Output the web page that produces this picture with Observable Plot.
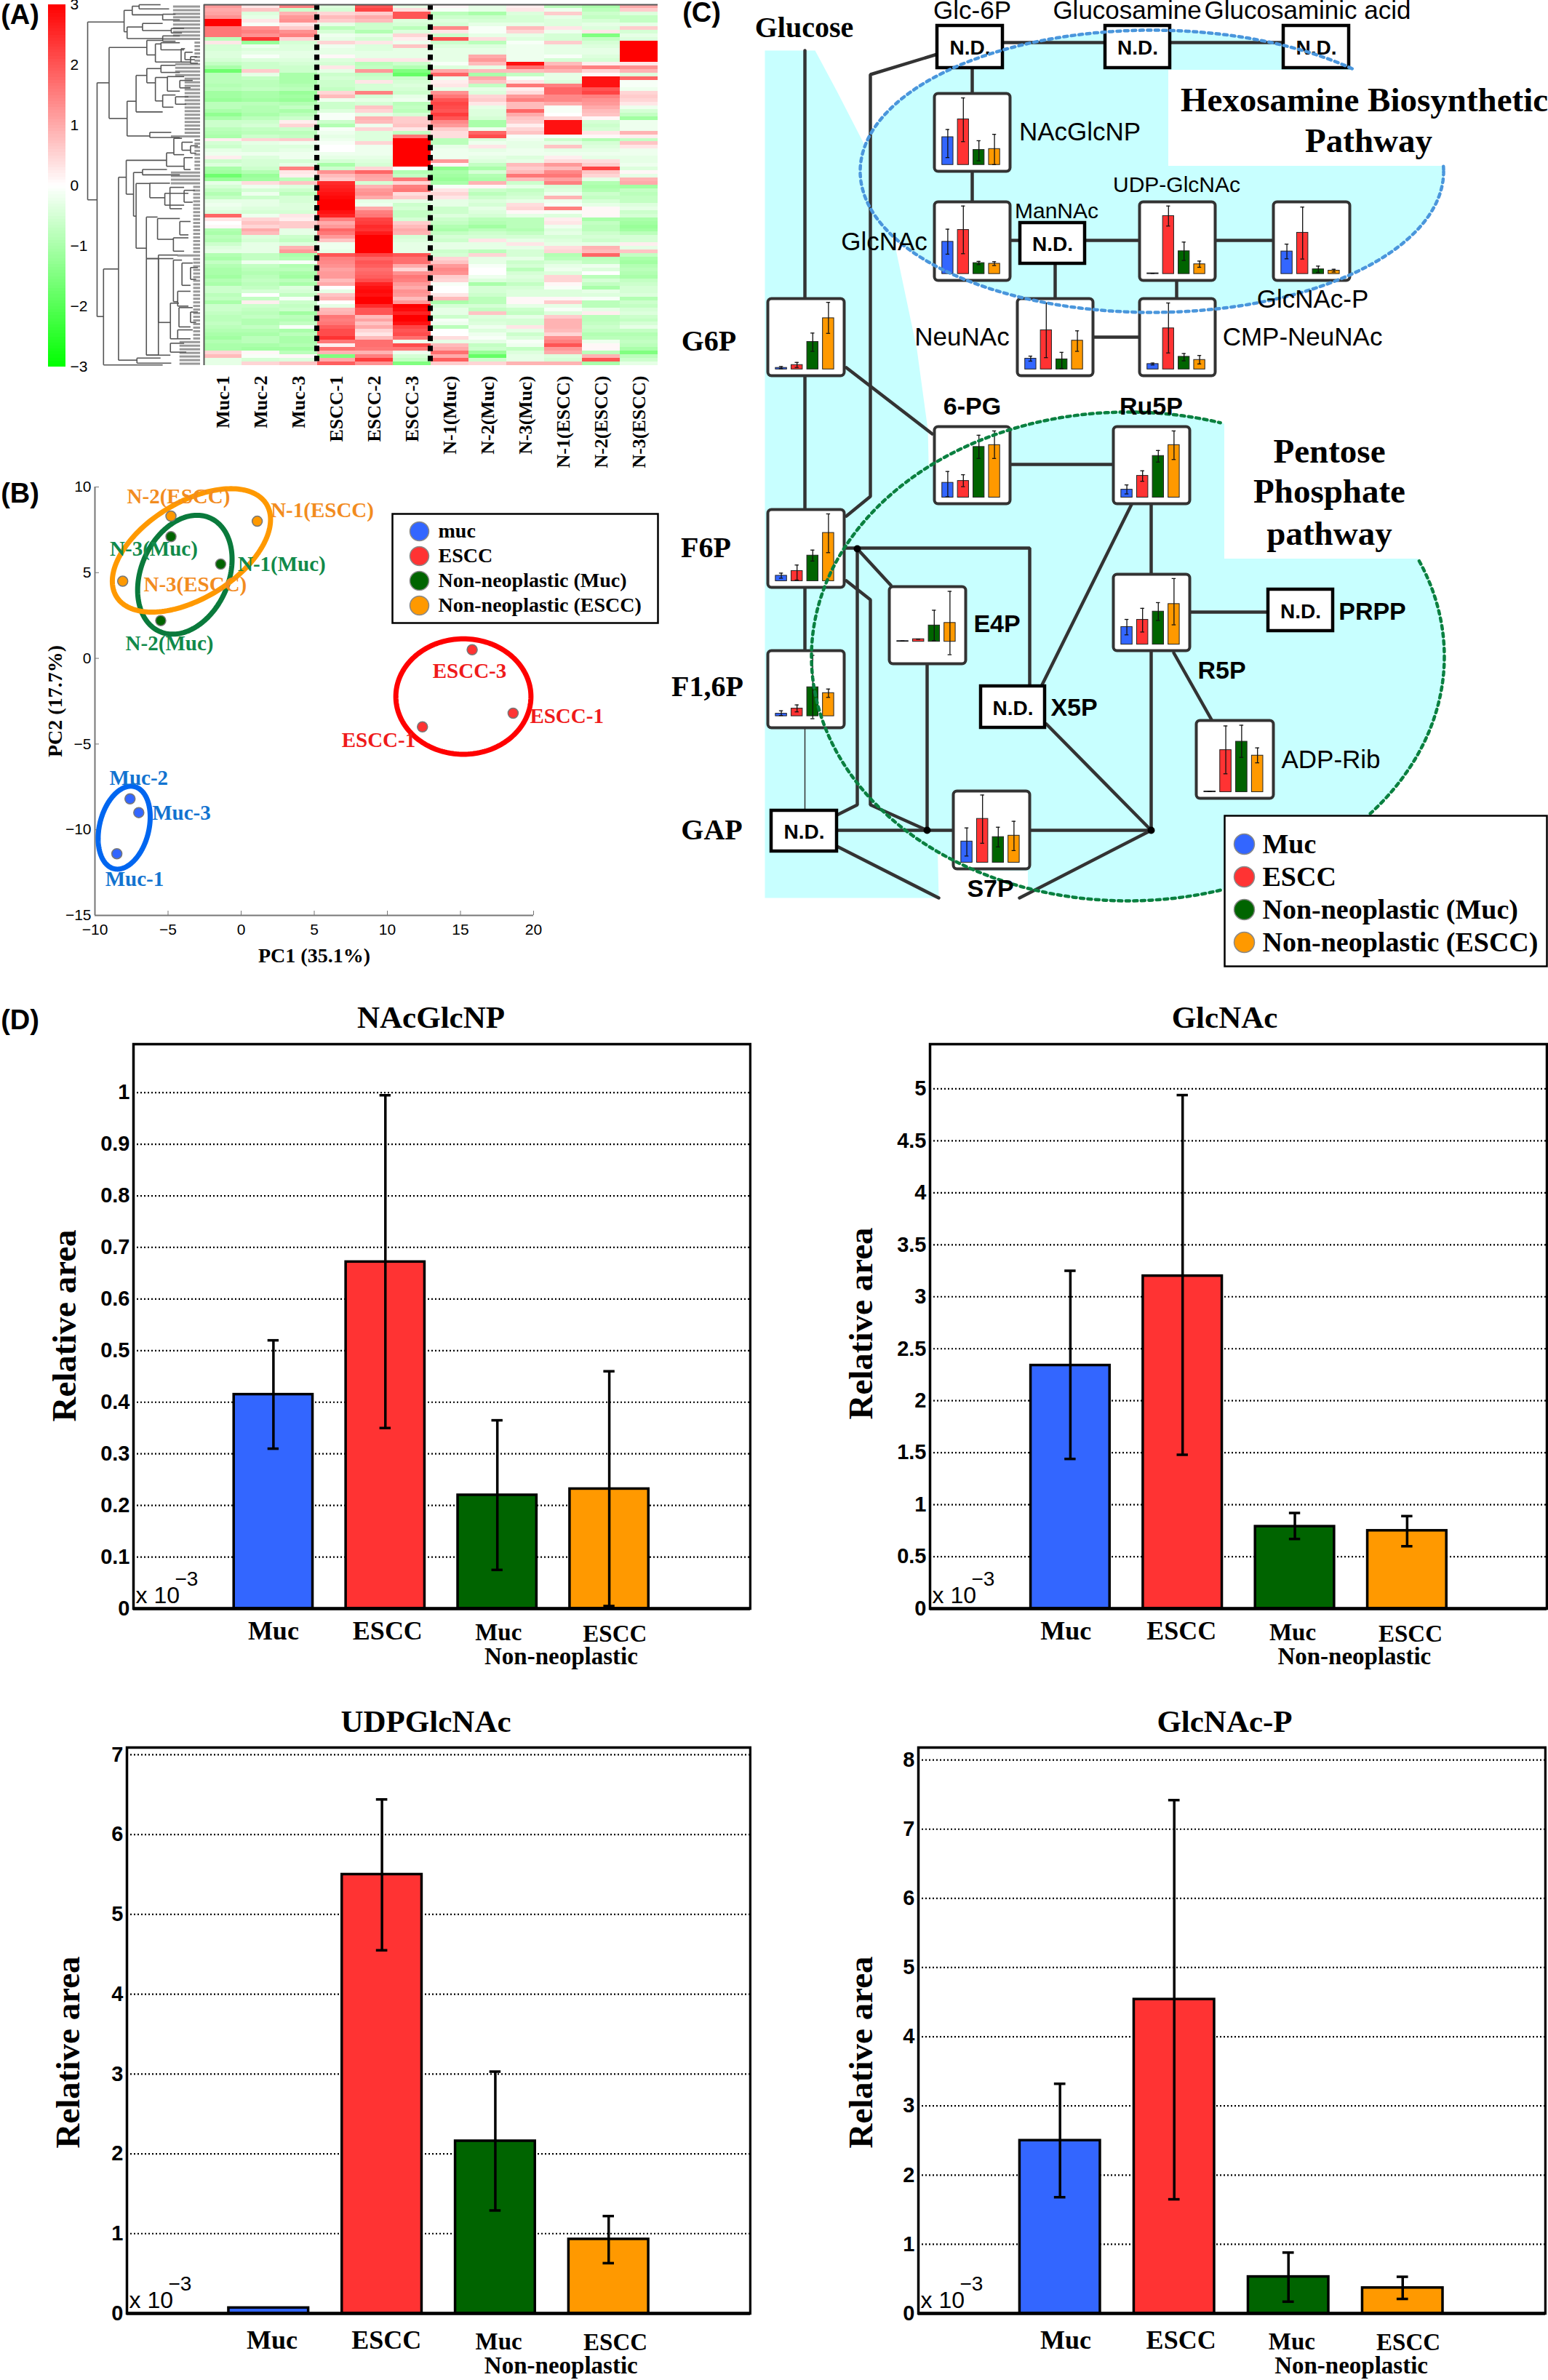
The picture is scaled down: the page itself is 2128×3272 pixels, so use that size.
<!DOCTYPE html>
<html><head><meta charset="utf-8">
<script src="https://cdn.jsdelivr.net/npm/d3@7"></script>
<script src="https://cdn.jsdelivr.net/npm/@observablehq/plot@0.6"></script>
<style>html,body{margin:0;padding:0;background:#fff}#root{position:relative;width:2128px;height:3272px;overflow:hidden;background:#fff}</style>
</head><body><div id="root"></div>
<script>
const SERIF="Liberation Serif", SANS="Liberation Sans";
const groups=["Muc","ESCC","Non-neoplastic (Muc)","Non-neoplastic (ESCC)"];
const groupColors=["#3366ff","#ff3333","#006400","#ff9900"];

// ---------- (A) heat map ----------
const samples=["Muc-1","Muc-2","Muc-3","ESCC-1","ESCC-2","ESCC-3","N-1(Muc)","N-2(Muc)","N-3(Muc)","N-1(ESCC)","N-2(ESCC)","N-3(ESCC)"];
const heatRows=[
[1.2,.3,1.5,-.4,2,-.3,.1,-.3,.2,-.8,-1,1],[1,.7,-.6,-.5,2.2,.4,-.1,-.3,.3,-.2,-.8,.6],[1.1,-.4,.9,.5,.6,2,-.8,-1,-.4,.6,-.6,-.4],[1.3,-.3,1.2,.8,1,2,-.6,-.6,-.5,-.3,-.7,-.7],[3,.3,1.3,.6,.8,-.4,-.4,-.5,-.5,-.4,-.5,-.7],
[3,-.1,.3,-.3,-.6,-.5,-.5,-.3,-.3,-.4,-.3,-.3],[1.6,1.3,.6,-.8,-.6,-.8,1.4,-.1,.8,.3,-.4,.6],[1.6,1.5,1.3,-.5,-.9,-.4,.3,-.1,.5,-.2,.3,-.5],[1.6,1.3,1.5,-.2,-.3,.5,-.6,-.3,-.3,-.5,-1.5,-.3],[-.8,2.4,.5,-.3,-.5,.2,2,.4,-.4,-.5,-.7,-.4],
[.3,-1.2,-.5,.5,.3,-.2,-.6,-.8,-.1,.6,-.5,3],[-.5,-.2,-.4,-.2,-.4,.7,-.4,-.4,-.2,-.3,-.4,3],[-.5,-.4,-.4,-.3,-.4,-.3,-.3,-.3,-.2,-.3,-.3,3],[-.4,-.3,-.3,-.3,-.3,-.3,-.3,-.3,-.2,-.3,-.3,3],[-.4,-.1,-.3,.1,-.3,-.3,-.3,1,-.2,-.1,-.4,3],
[-.5,-.4,-.4,-.4,.3,.3,-.3,1.2,-.2,-.5,-.5,3],[-.7,-.6,-.5,-.5,-.8,-.6,-.1,.8,2.8,.8,.2,.3],[-1,-.6,-.6,.3,-.7,-.9,-.4,-.3,1.7,1.2,1.5,1.3],[-1.7,.6,-.6,-.3,1.2,-1.5,1,.8,.8,.9,.5,.9],[-.8,-.3,-1,-.6,-.7,-1.8,1.8,-1,-.7,-.3,.1,-.4],
[-.8,-.7,-1,-.5,-.6,-.6,-.2,1,-.1,-.3,2.8,1.8],[-.8,-.8,-1,-.6,.3,-.5,.2,.7,.3,-.4,2.8,-.1],[-.9,-.8,-.9,-.6,-.5,-.4,.3,-.7,1.6,1.5,2.8,-.1],[-.8,-.7,-.8,-.7,-.5,-.5,-.3,-.3,.2,1.8,2,-.2],[-1.1,-1,-1.2,.5,1.5,-.6,1.3,-.4,.4,1.8,2.2,.5],
[-1.1,-1,-1.1,.8,-.5,-.3,1.6,.5,1.2,1.4,1.5,.6],[-1.2,-1.1,-1.2,-.2,-.3,-.2,2,.6,1.5,1.4,1.3,.5],[-.8,-.8,-.9,-.6,-.5,-.8,2.2,.3,.8,1,1.2,.3],[-.8,-.9,-.7,-.6,.7,-.7,2.1,-.3,.8,-.1,1,-.2],[-1,-.9,-1,-.4,.5,-.8,2,-.4,1.8,-.1,.8,-.5],
[-1.3,-1,-.8,-.1,-.3,-.5,2.3,-.4,1,0,.7,-.7],[-1,-.8,-.6,-.1,.9,.6,2,-.5,.7,.5,.1,-1.1],[-.6,-.6,.2,-.6,.8,.6,1.4,-1,.6,2.8,-.5,-.2],[-.6,-.5,.5,-.9,-.2,.7,1.2,-1,.2,2.8,-.6,-.2],[-.8,-.7,-.6,-.1,.5,.3,.6,-.2,.5,2.8,-.5,-.2],
[-.9,-.8,-.8,-.2,-.4,-.7,.4,1.8,.7,2.8,.3,.9],[-1,-.6,-.7,-.3,-.4,1.6,.4,2.1,-.1,-.1,.1,.2],[.2,.5,.6,-.2,-.4,3,-.8,-.4,-.2,-.6,-.9,-.7],[-.5,-.3,-.2,-.1,.5,3,-.8,-.2,-.3,-.3,-.5,.7],[-.6,-.4,-.4,0,-.2,3,-.3,.3,-.3,.7,-.4,.3],
[-.3,-.4,-.3,0,-.2,3,-.2,-.3,-.2,-.3,-.3,-.2],[-.2,-.2,-.2,-.2,-.2,3,-.2,-.2,-.2,-.2,-.2,-.2],[.2,-.4,-.2,-.3,-.3,3,-.2,-.3,-.4,.2,-.3,-.3],[-.6,-.5,-.5,-.5,-.4,3,1.2,-.4,-.3,.4,.4,-.3],[-.4,-.5,-.3,-1,-.5,3,.1,-.7,.8,1.2,.6,-.2],
[-1,-.6,1.5,-.6,.5,0,-1.3,-1,.6,.8,2.2,-.4],[-1.1,-.9,.3,1.3,1.8,-.9,-1,-.5,.8,1.4,.7,.1],[-1.7,-1.2,.2,.8,1.1,-.7,-1.1,-.9,1.6,1.6,.5,-.3],[-1.2,-1.1,-.8,.6,1,1.6,-1.2,-1,.8,1.1,-.3,.9],[-.3,.4,.7,2.5,-.5,.5,-1,.9,-.6,1.5,-.9,1],
[-.5,-.2,-.4,2.6,.9,1.5,-.1,.1,-.3,-.5,-1,-1.1],[-.7,-.5,-.6,2.7,1.2,1.6,.3,-.6,-.7,-.4,-.9,-.7],[-.9,-.2,-.8,2.8,1.3,.4,.5,-.8,-.6,-.2,-.6,-.8],[-.7,-.6,-.5,2.9,1,.6,.3,-.6,-.5,.9,-.7,-.7],[-.3,-.3,-.5,3,-.3,-.3,-.3,-.4,-.3,-.2,-.5,-.7],
[-.2,-.3,-.4,3,-.2,-.6,-.3,-.5,.4,-.1,-.3,-.4],[-.3,-.4,-.4,3,1,-.5,-.6,-.3,.5,1.5,.1,-.3],[-.4,-.5,-.5,2.8,1.5,-.7,-.6,-.4,.1,-.1,.1,-.6],[1.8,-.2,.3,2.6,1.6,-.7,-.4,-.5,-.3,-.4,.1,-.5],[.3,.5,.2,1.5,2.2,-.5,-.6,-.8,-.8,.2,-1,-1],
[0,.7,.6,1,2.3,.6,-.7,-.9,-.8,.3,-.7,-1.1],[.1,.5,.6,1.2,2.5,.8,-.9,-1.1,-.8,-.2,-.8,-1.2],[-.9,1,-.3,1.8,2.4,1,-1,-.8,-.9,-.4,-.8,-1.1],[-1,.8,-.3,1.6,2.7,.9,-.7,-.6,-.7,-.3,-.6,-.8],[-.8,-.4,-.6,1.2,3,-.5,-.5,-.5,-.5,-.5,-.5,-.5],
[-.9,-.5,-.7,.7,3,-.4,-.6,.3,-.3,-.4,-.6,-.5],[-.6,-.3,-.4,-.2,3,-.3,-.3,-.3,.3,-.3,-.3,.2],[-.4,-.3,.9,-.2,3,-.3,-.3,-.3,-.3,.4,.9,-.3],[-.3,-.3,1.2,-.3,3,-.3,-.6,-.8,-.5,.5,.8,.7],[-.9,-.7,-1,2,2.2,2,-.5,.5,-.5,-.9,1.8,-.7],
[-1,-.7,-.9,1.5,1.8,1.7,.5,-.3,-.3,-.8,-.8,-1],[-.7,-.2,-.1,1.4,2,1.7,.7,-.3,-.6,-.5,-.7,-1.1],[-.9,-.7,-.9,1.3,1.9,1,1.2,-.1,-.5,-.3,-.2,-.9],[-1,-.8,-.8,1.1,1.7,.5,1.4,0,-.8,-.2,-.4,-.8],[-1,-.9,-1,1.2,1.8,1.3,1.3,0,-.5,-.4,0,-.9],
[-1.1,-.8,-1.1,1.2,1.9,1.6,.6,-.2,-.4,.5,-.8,-1],[-.9,-.7,-.8,.8,2.1,1.5,.5,-.4,-.5,.5,-.5,-.7],[-1,-.8,-1,1,2.6,1.2,-.1,-1,-.7,.1,-.7,-.6],[-.6,-.7,-.4,0,2.8,1,0,-.5,-.5,-.1,-1,-.5],[-.6,-.5,-.5,-.3,2.9,1.3,0,-.5,-.4,-.4,-.3,-.5],
[-.8,0,-.7,.7,2.8,1.2,.3,-.6,-.4,-.4,-.4,-.4],[-.7,-.7,-.1,.9,3,.8,.8,-.8,.1,.1,-.1,-.9],[-1,.2,-.6,0,3,1.2,-1,-.8,.1,.6,-.8,-.6],[-.6,-.6,-.7,-.3,2.5,3,-.5,-.5,-.3,-.3,-.8,-.7],[-.6,-.7,-.6,.8,2,2.9,-.3,-.7,-.6,-.1,-.3,-.5],
[-.7,-.8,-1.1,.9,2,2.6,-.3,.7,-.7,-.4,.2,-.4],[-.8,-.7,-.8,1.6,.8,3,-.6,-.4,-.3,.6,-.8,-.6],[-.8,-.9,-.9,1.5,1.1,3,-.1,-.5,-.5,.9,-.8,-.7],[-.7,-.9,-.7,1.6,.7,2.8,-.2,-.4,-.5,.9,-.7,-.5],[-.8,-.7,-.1,1.9,1,2.2,-.8,-.2,.3,.9,-.6,-.3],
[-.9,-.9,-1,2.1,.5,2,0,-.4,-.3,.8,-.7,-.7],[-1,-1,-.8,2.1,.3,2.1,0,-.2,-.6,.5,-.9,-.9],[-1.1,-.8,-1,2.4,.8,1.7,.4,-.1,-.4,1.3,-.8,-.8],[-.9,-.8,-1,1.6,1.7,-.2,-.3,-.3,-.1,1.5,-.2,-.7],[-1,-1,-.9,.2,1.7,2.1,.8,-.7,-.2,2,.1,-.8],
[-1,-1.1,-1.1,1.7,1.6,1.6,1,-.6,-.7,1.2,.1,-1],[.5,.1,-.8,.9,.9,-.2,1.7,-1.2,-.4,1,-.8,-1.5],[.8,-.1,.1,-1.5,1.5,-.5,1,-1.8,-.3,-.4,.9,-.8],[-.3,-.5,-.4,1,2.3,-.7,1.9,-.6,-.3,-.5,2,-.6],[-.3,.5,.7,1.9,1.3,-1.5,.6,.5,.9,.9,-1,-.3]];
const heatDomain=[-3,0,3], heatRange=["#00ff00","#ffffff","#ff0000"], colorTicks=[-3,-2,-1,0,1,2,3];
// dendrogram merges: parent distance, top y, top child distance, bottom y, bottom child distance
const merges=[
[205,73,290,672,227],[290,34,309,106,297],[309,20,325,49,380],[325,15,375,29,395],[380,47,410,66,420],[297,90,333,129,380],[333,78,380,102,400],[400,95,430,110,425],[380,120,420,138,410],
[227,278,255,1065,242],[255,159,343,398,297],[343,135,380,184,363],[363,147,376,208,423],[376,143,420,167,430],[423,163,432,208,445],[432,175,450,200,455],[445,190,460,212,462],
[297,340,318,457,350],[318,253,343,376,380],[343,230,376,278,363],[376,219,410,243,420],[363,260,391,339,380],[391,257,430,306,420],[420,270,450,295,445],[380,319,410,360,405],[410,325,440,350,435],[350,445,400,462,420],
[242,905,277,1228,380],[277,596,295,1212,320],[295,539,389,653,312],[389,514,406,559,430],[406,465,425,520,430],[425,478,450,505,445],[445,490,462,515,458],[430,530,450,570,445],
[312,580,333,727,318],[333,570,390,588,420],[318,617,350,835,342],[350,616,397,665,385],[397,630,430,702,425],[430,640,455,680,450],[385,650,440,690,430],
[342,730,368,870,370],[368,735,420,805,405],[420,745,445,790,440],[405,800,440,845,430],[370,858,415,1195,342],
[342,870,370,1195,398],[370,870,405,1085,398],[405,875,425,1015,415],[425,885,450,960,445],[445,900,462,940,458],[415,980,445,1030,440],[398,1020,418,1140,415],[418,1035,450,1100,445],[445,1050,462,1085,458],[415,1110,450,1140,445],[398,1155,430,1185,435],[320,1205,375,1222,400]];
const leafSpans=[[20,130,405],[130,142,380],[142,215,455],[215,262,410],[262,450,432],[450,465,400],[465,570,455],[570,620,400],[620,855,452],[855,865,415],[865,1150,452],[1150,1230,420]];

// ---------- (B) PCA ----------
const pcaX=[-7.6,-7.0,-8.5,15.8,18.6,12.4,-4.8,-1.4,-5.5,-4.8,1.1,-8.1];
const pcaY=[-8.2,-9.0,-11.4,0.5,-3.2,-4.0,7.1,5.5,2.2,8.3,8.0,4.5];
const pcaGroup=[0,0,0,1,1,1,2,2,2,3,3,3];
const pcaLabels=["Muc-2","Muc-3","Muc-1","ESCC-3","ESCC-1","ESCC-1","N-3(Muc)","N-1(Muc)","N-2(Muc)","N-2(ESCC)","N-1(ESCC)","N-3(ESCC)"];
const pcaLabelX=[-7,-4.08,-7.29,15.62,22.27,9.4,-5.97,2.78,-4.9,-4.28,5.55,-3.14];
const pcaLabelY=[-7,-9.03,-12.87,-.76,-3.37,-4.8,6.39,5.48,.85,9.43,8.63,4.3];
const pcaLabelColors=["#1273d0","#ef1a1a","#118a4a","#f28c1f"];
const pcaEllipseColors=["#0066f0","#ff0000","#0a7a3c","#ff9900"];
// centre x, centre y, half width, half height, phase (deg)
const pcaEllipses=[[-8,-9.88,1.78,2.42,75],[15.2,-2.23,4.62,3.37,90],[-3.85,4.88,3.23,3.47,75],[-3.4,6.3,5.41,3.6,60]];
const pcTicksX=[-10,-5,0,5,10,15,20], pcTicksY=[-15,-10,-5,0,5,10];
const pcaLegend=["muc","ESCC","Non-neoplastic (Muc)","Non-neoplastic (ESCC)"];

// ---------- (C) pathway mini bars: fractions of the box height ----------
const metabolites=["NAcGlcNP","GlcNAc","UDP-GlcNAc","GlcNAc-P","NeuNAc","CMP-NeuNAc","G6P","6-PG","Ru5P","F6P","E4P","R5P","F1,6P","ADP-Rib","S7P"];
const miniMeans=[[.357,.586,.193,.205],[.41,.561,.139,.131],[.009,.738,.29,.124],[.287,.525,.06,.043],[.139,.508,.131,.373],[.07,.533,.164,.123],[.02,.057,.357,.664],[.192,.216,.657,.681],[.103,.282,.54,.681],[.07,.131,.329,.62],[.009,.033,.211,.244],[.23,.324,.432,.531],[.033,.099,.376,.3],[.009,.54,.648,.469],[.272,.563,.329,.347]];
const miniLow=[[.094,.299,.053,.004],[.252,.258,.119,.107],[.009,.61,.172,.085],[.193,.19,.02,.025],[.107,.152,.01,.234],[.057,.213,.111,.07],[.008,.025,.234,.467],[.01,.141,.507,.507],[.047,.211,.46,.493],[.038,.014,.258,.366],[.009,.033,.014,-.169],[.127,.164,.315,.258],[.009,.056,-.033,.244],[.009,.235,.446,.376],[.085,.249,.202,.155]];
const miniHigh=[[.455,.861,.311,.393],[.57,.865,.16,.156],[.009,.865,.406,.164],[.38,.852,.1,.06],[.172,.861,.221,.5],[.082,.861,.205,.18],[.037,.09,.471,.869],[.338,.296,.808,.864],[.164,.347,.61,.864],[.103,.207,.399,.864],[.009,.033,.408,.653],[.329,.474,.549,.864],[.07,.146,.789,.352],[.009,.85,.859,.568],[.446,.869,.455,.531]];
const miniZero=[.082,.082,.082,.082,.082,.082,.082,.08,.08,.08,.286,.08,.15,.08,.08];
const miniBoxes=[[1284,128,1388,235],[1284,277,1388,385],[1566,277,1670,385],[1750,277,1855,385],[1398,410,1502,516],[1566,410,1670,516],[1055,410,1160,516],[1284,586,1388,692],[1530,586,1635,692],[1055,700,1160,807],[1222,806,1327,912],[1530,789,1635,894],[1055,894,1160,1000],[1644,990,1750,1097],[1310,1087,1415,1194]];
const ndBoxes=[[1288,35,1378,93],[1519,35,1608,93],[1764,35,1854,93],[1402,306,1491,362],[1348,943,1436,1000],[1743,810,1832,867],[1060,1114,1150,1170]];
const pathways=[
[[1106,69],[1106,700]],[[1106,807],[1106,894]],
[[1288,74],[1196,102],[1196,682],[1163,709]],[[1378,58],[1764,58]],[[1336,93],[1336,277]],[[1388,330],[1402,330]],[[1491,330],[1750,330]],
[[1450,362],[1450,410]],[[1617,385],[1617,410]],[[1502,463],[1566,463]],[[1163,505],[1281,596]],[[1388,638],[1530,638]],[[1582,692],[1582,1141]],
[[1635,841],[1743,841]],[[1613,897],[1665,989]],[[1555,693],[1431,943]],[[1160,753],[1415,753],[1415,943]],[[1178,754],[1224,804]],
[[1178,754],[1178,1106],[1150,1120]],[[1163,798],[1196,824],[1196,1106],[1274,1141]],[[1274,912],[1274,1141]],[[1150,1141],[1582,1141]],
[[1438,995],[1582,1141]],[[1150,1163],[1290,1234]],[[1582,1141],[1401,1234]]];
const thinPath=[[1106,1000],[1106,1114]];
const junctions=[[1178,754],[1274,1141],[1582,1141]];
const cyanShape=[[1051,69],[1120,69],[1150,125],[1186,195],[1232,347],[1260,480],[1275,590],[1290,1234],[1051,1234]];
const hexEllipse=[1583,235,401,194], ppEllipse=[1550,902,435,336];
const whiteRects=[[1606,96,2128,228],[1683,560,2128,768],[1295,1197,1413,1238]];
const serifLabels=[["Glucose",1105,38,40],["G6P",974,469,40],["F6P",970,753,40],["F1,6P",972,944,40],["GAP",978,1141,40],["Hexosamine Biosynthetic",1875,137,47],["Pathway",1881,193,47],["Pentose",1827,620,47],["Phosphate",1827,675,47],["pathway",1827,733,47]];
const sansLabels=[["Glc-6P",1336,14,35],["Glucosamine",1549,14,35],["Glucosaminic acid",1797,14,35],["NAcGlcNP",1484,181,35],["GlcNAc",1215,332,35],["NeuNAc",1322,463,35],["CMP-NeuNAc",1790,463,35],["GlcNAc-P",1804,411,35],["ADP-Rib",1829,1044,35],["UDP-GlcNAc",1617,254,30],["ManNAc",1452,290,30]];
const boldLabels=[["6-PG",1336,559],["Ru5P",1582,559],["E4P",1370,858],["PRPP",1886,841],["R5P",1679,922],["X5P",1476,973],["S7P",1361,1222]];

// ---------- (D) bars ----------
const panelTitles=["NAcGlcNP","GlcNAc","UDPGlcNAc","GlcNAc-P"];
const panelMeans=[[.415,.672,.22,.232],[2.34,3.2,.79,.75],[.07,5.5,2.16,.93],[2.5,4.54,.53,.37]];
const panelLow=[[.31,.35,.075,.005],[1.44,1.48,.67,.6],[null,4.55,1.29,.63],[1.68,1.65,.17,.21]];
const panelHigh=[[.52,.995,.365,.46],[3.25,4.94,.92,.89],[null,6.44,3.03,1.22],[3.32,7.42,.88,.53]];
const panelTicks=[[0,.1,.2,.3,.4,.5,.6,.7,.8,.9,1],[0,.5,1,1.5,2,2.5,3,3.5,4,4.5,5],[0,1,2,3,4,5,6,7],[0,1,2,3,4,5,6,7,8]];
const panelTops=[1.094,5.43,7.09,8.18];
const catLabels=["Muc","ESCC","Muc","ESCC","Non-neoplastic"];
const catSizes=[36,36,33,33,33];

const root=document.getElementById("root");
function put(el,left,top){el.style.position="absolute";el.style.left=left+"px";el.style.top=top+"px";el.style.background="transparent";el.style.maxWidth="none";root.appendChild(el);return el;}

// colour bar
const ramp=d3.range(-3,3,0.05);
put(Plot.plot({width:70,height:520,marginLeft:6,marginRight:40,marginTop:6,marginBottom:16,
 x:{domain:[0,1],axis:null},y:{domain:[-3,3]},color:{type:"linear",domain:heatDomain,range:heatRange},
 marks:[Plot.rect(ramp,{x1:0,x2:1,y1:d=>d,y2:d=>d+0.05,fill:d=>d+0.025,shapeRendering:"crispEdges"}),
  Plot.axisY(colorTicks,{anchor:"right",tickSize:0,tickPadding:6,fontSize:21,fontFamily:SANS,label:null,tickFormat:d3.format("d")})]}),60,0);

// dendrogram
const dendroSegs=merges.flatMap(([p,y1,a,y2,b])=>[[p,y1,p,y2],[p,y1,a,y1],[p,y2,b,y2]]);
const leafRows=d3.range(100).map(r=>{const y=15+(r+.5)*12.15;const s=leafSpans.find(q=>y>=q[0]&&y<q[1])||[0,0,455];return {y,x:s[2]};});
put(Plot.plot({width:165,height:520,marginLeft:5,marginRight:5,marginTop:6,marginBottom:18,
 x:{domain:[205,468],axis:null},y:{domain:[15,1230],reverse:true,axis:null},
 marks:[Plot.ruleY(leafRows,{y:"y",x1:"x",x2:()=>468,stroke:"#999",strokeWidth:3}),
  Plot.link(dendroSegs,{x1:d=>d[0],y1:d=>d[1],x2:d=>d[2],y2:d=>d[3],stroke:"#555",strokeWidth:1.6})]}),115,0);

// heat map
const heatCells=heatRows.flatMap((row,r)=>row.map((v,c)=>({r,s:samples[c],v})));
put(Plot.plot({width:628,height:680,marginLeft:2,marginRight:2,marginTop:6,marginBottom:178,
 x:{domain:samples,padding:0,round:false},y:{domain:d3.range(100),padding:0,round:false,axis:null},
 color:{type:"linear",domain:heatDomain,range:heatRange},
 marks:[Plot.cell(heatCells,{x:"s",y:"r",fill:"v",shapeRendering:"crispEdges"}),
  Plot.ruleX(["ESCC-1","N-1(Muc)"],{x:d=>d,dx:-27,stroke:"#000",strokeWidth:7,strokeDasharray:"7.5 6.3"}),
  Plot.ruleY([0],{y:()=>0,dy:-2.5,stroke:"#555",strokeWidth:2}),
  Plot.ruleX(["Muc-1"],{x:d=>d,dx:-26,stroke:"#555",strokeWidth:2}),
  Plot.axisX({anchor:"bottom",tickSize:0,tickPadding:14,tickRotate:-90,fontSize:26,fontWeight:"bold",fontFamily:SERIF,label:null})]}),278,0);

// PCA
const ellipsePts=(e,k)=>d3.range(0,361,2).map(a=>{const t=a*Math.PI/180,p=e[4]*Math.PI/180;return {k,x:e[0]+e[2]*Math.cos(t),y:e[1]+e[3]*Math.cos(t-p)};});
const pcaPts=pcaX.map((x,i)=>({x,y:pcaY[i],g:pcaGroup[i],lab:pcaLabels[i],lx:pcaLabelX[i],ly:pcaLabelY[i]}));
put(Plot.plot({width:920,height:720,marginLeft:130,marginRight:187,marginTop:29,marginBottom:102,
 x:{domain:[-10,20]},y:{domain:[-15,10]},color:{type:"identity"},
 marks:[Plot.ruleX([-10],{stroke:"#777",strokeWidth:2}),Plot.ruleY([-15],{stroke:"#777",strokeWidth:2}),
  Plot.axisX(pcTicksX,{anchor:"bottom",tickSize:-6,tickPadding:18,fontSize:21,fontFamily:SANS,label:null,stroke:"#777"}),
  Plot.axisY(pcTicksY,{anchor:"left",tickSize:-6,tickPadding:11,fontSize:21,fontFamily:SANS,label:null,stroke:"#777"}),
  ...pcaEllipses.map((e,i)=>Plot.line(ellipsePts(e,i),{x:"x",y:"y",stroke:pcaEllipseColors[i],strokeWidth:7})),
  Plot.dot(pcaPts,{x:"x",y:"y",r:7,fill:d=>groupColors[d.g],stroke:"#777",strokeWidth:1.5}),
  Plot.text(pcaPts,{x:"lx",y:"ly",text:"lab",fill:d=>pcaLabelColors[d.g],fontSize:29,fontWeight:"bold",fontFamily:SERIF}),
  Plot.text(["PC1 (35.1%)"],{frameAnchor:"bottom",dx:-0,dy:56,lineAnchor:"middle",fontSize:28,fontWeight:"bold",fontFamily:SERIF}),
  Plot.text(["PC2 (17.7%)"],{frameAnchor:"left",dx:-54,dy:0,lineAnchor:"middle",textAnchor:"middle",rotate:-90,fontSize:28,fontWeight:"bold",fontFamily:SERIF})]}),0,640);

function legendPlot(names,w,h,fs,r,xd,xt,rng){
 return Plot.plot({width:w,height:h,margin:2,x:{axis:null,domain:[0,1]},y:{type:"point",domain:names,range:rng,padding:0,axis:null},
  color:{type:"identity"},
  marks:[Plot.frame({stroke:"#000",strokeWidth:2.5,fill:"#fff"}),
   Plot.dot(names,{y:d=>d,frameAnchor:"left",dx:xd,r,fill:(d,i)=>groupColors[i],stroke:"#888",strokeWidth:1.5}),
   Plot.text(names,{y:d=>d,text:d=>d,frameAnchor:"left",textAnchor:"start",lineAnchor:"middle",dx:xt,fontSize:fs,fontWeight:"bold",fontFamily:SERIF})]});
}
put(legendPlot(pcaLegend,369,154,28,13,37,63,[25,129]),537,704);

// (C) base layer
const dC={width:1208,height:1340,margin:0,x:{domain:[920,2128],axis:null},y:{domain:[0,1340],reverse:true,axis:null}};
const ell=(e,hide)=>d3.range(0,361,1).map(a=>{const t=a*Math.PI/180,x=e[0]+e[2]*Math.cos(t),y=e[1]+e[3]*Math.sin(t);return [x,hide&&hide(x,y)?NaN:y];});
const CYAN="#c8ffff";
const pathRows=pathways.flatMap((p,k)=>p.map(q=>({k,x:q[0],y:q[1]})));
put(Plot.plot({...dC,marks:[
 Plot.line(cyanShape,{x:d=>d[0],y:d=>d[1],fill:CYAN,stroke:null}),
 Plot.line(ell(hexEllipse),{x:d=>d[0],y:d=>d[1],fill:CYAN,stroke:null}),
 Plot.line(ell(ppEllipse),{x:d=>d[0],y:d=>d[1],fill:CYAN,stroke:null}),
 Plot.rect(whiteRects,{x1:d=>d[0],y1:d=>d[1],x2:d=>d[2],y2:d=>d[3],fill:"#fff"}),
 Plot.line(pathRows,{x:"x",y:"y",z:"k",stroke:"#333",strokeWidth:4.5,strokeLinejoin:"miter"}),
 Plot.line(thinPath,{x:d=>d[0],y:d=>d[1],stroke:"#333",strokeWidth:1.5}),
 Plot.dot(junctions,{x:d=>d[0],y:d=>d[1],r:5,fill:"#000"}),
 Plot.rect(ndBoxes,{x1:d=>d[0],y1:d=>d[1],x2:d=>d[2],y2:d=>d[3],fill:"#fff",stroke:"#000",strokeWidth:4.5}),
 Plot.text(ndBoxes,{x:d=>(d[0]+d[2])/2,y:d=>(d[1]+d[3])/2+2,text:()=>"N.D.",fontSize:28,fontWeight:"bold",fontFamily:SANS})
]}),920,0);

// mini bar charts
metabolites.forEach((m,i)=>{
 const [l,t,r,b]=miniBoxes[i],pad=3,z=miniZero[i],w=r-l;
 const rows=groups.map((g,k)=>({g,v:miniMeans[i][k],lo:miniLow[i][k],hi:miniHigh[i][k]}));
 put(Plot.plot({width:w+2*pad,height:b-t+2*pad,margin:pad,
  x:{domain:groups,axis:null,paddingInner:.286,paddingOuter:.143,range:[pad+w*.074,pad+w*.897],round:false},
  y:{domain:[-z,1-z],axis:null},
  color:{domain:groups,range:groupColors},
  marks:[Plot.frame({stroke:"#333",strokeWidth:4,rx:5,fill:"#fff"}),
   Plot.barY(rows,{x:"g",y:"v",fill:"g",stroke:"#222",strokeWidth:1}),
   Plot.ruleX(rows,{x:"g",y1:"lo",y2:"hi",stroke:"#111",strokeWidth:1.3}),
   Plot.tickY(rows,{x:"g",y:"hi",stroke:"#111",strokeWidth:1.3,insetLeft:5,insetRight:5}),
   Plot.tickY(rows,{x:"g",y:"lo",stroke:"#111",strokeWidth:1.3,insetLeft:5,insetRight:5})]}),l-pad,t-pad);
});

// (C) overlay: dotted ellipses and names
const hideBlue=(x,y)=>x>1606&&y>96&&y<228;
const hideGreen=(x,y)=>x>1683&&(y<768||y>1121);
put(Plot.plot({...dC,marks:[
 Plot.line(ell(hexEllipse,hideBlue),{x:d=>d[0],y:d=>d[1],stroke:"#4a96dc",strokeWidth:4.5,strokeDasharray:"5 5.5"}),
 Plot.line(ell(ppEllipse,hideGreen),{x:d=>d[0],y:d=>d[1],stroke:"#0a8040",strokeWidth:4.5,strokeDasharray:"5 5.5"}),
 Plot.text(serifLabels,{x:d=>d[1],y:d=>d[2],text:d=>d[0],fontSize:d=>d[3],fontWeight:"bold",fontFamily:SERIF}),
 Plot.text(sansLabels,{x:d=>d[1],y:d=>d[2],text:d=>d[0],fontSize:d=>d[3],fontFamily:SANS}),
 Plot.text(boldLabels,{x:d=>d[1],y:d=>d[2],text:d=>d[0],fontSize:34,fontWeight:"bold",fontFamily:SANS})
]}),920,0);
put(legendPlot(groups,447,211,38,14,27,52,[40,176]),1681,1119);

// (D)
const frames=[[183,1435,1031,2211],[1278,1435,2126,2211],[174,2402,1031,3180],[1262,2402,2124,3180]];
const xDomains=[[-.25,5.26],[-.25,5.245],[-.25,5.25],[-.24,5.25]];
const catX=[[1,2.02,3.01,4.05,3.57],[.96,1.99,2.98,4.03,3.53],[1.03,2.04,3.03,4.06,3.58],[1.05,2.06,3.03,4.05,3.55]];
const catY=[[2242,2242,2244,2246,2277],[2242,2242,2244,2246,2277],[3217,3217,3219,3220,3252],[3217,3217,3219,3220,3252]];
const titlePos=[[592,1399],[1683,1399],[585,2367],[1683,2367]];
const yLabelPos=[[88,1822],[1183,1819],[93,2821],[1183,2821]];
panelTitles.forEach((title,p)=>{
 const [fl,ft,fr,fb]=frames[p],[x0,x1]=xDomains[p],top=panelTops[p];
 const X=q=>x0+(q-fl)*(x1-x0)/(fr-fl),Y=q=>top*(fb-q)/(fb-ft);
 const bars=groups.map((g,k)=>({i:k+1,g,v:panelMeans[p][k],lo:panelLow[p][k],hi:panelHigh[p][k]}));
 const errs=bars.filter(d=>d.lo!=null);
 const at=(t,px,py,o)=>Plot.text([t],{x:()=>X(px),y:()=>Y(py),text:d=>d,fontFamily:SERIF,fontWeight:"bold",...o});
 const ticks=panelTicks[p];
 const mL=170,mT=80,mB=92,mR=2;
 put(Plot.plot({width:fr-fl+mL+mR,height:fb-ft+mT+mB,marginLeft:mL,marginRight:mR,marginTop:mT,marginBottom:mB,
  x:{domain:[x0,x1],axis:null},y:{domain:[0,top],axis:null},color:{domain:groups,range:groupColors},
  marks:[Plot.ruleY(ticks.filter(t=>t>0),{stroke:"#000",strokeWidth:2.2,strokeDasharray:"2 3"}),
   Plot.frame({stroke:"#000",strokeWidth:3.5}),
   Plot.rectY(bars,{x1:d=>d.i-.352,x2:d=>d.i+.352,y1:0,y2:"v",fill:"g",stroke:"#000",strokeWidth:3.5}),
   Plot.ruleY([0],{stroke:"#000",strokeWidth:4.5}),
   Plot.ruleX(errs,{x:"i",y1:"lo",y2:"hi",stroke:"#000",strokeWidth:3.5}),
   Plot.ruleY(errs,{y:"hi",x1:d=>d.i-.05,x2:d=>d.i+.05,stroke:"#000",strokeWidth:3.5}),
   Plot.ruleY(errs,{y:"lo",x1:d=>d.i-.05,x2:d=>d.i+.05,stroke:"#000",strokeWidth:3.5}),
   Plot.axisY(ticks,{anchor:"left",tickSize:0,tickPadding:5,fontSize:29,fontWeight:"bold",fontFamily:SANS,label:null,tickFormat:String}),
   at(title,titlePos[p][0],titlePos[p][1],{fontSize:43}),
   at("Relative area",yLabelPos[p][0],yLabelPos[p][1],{fontSize:47,rotate:-90}),
   at("x 10",fl+3,fb-18,{fontFamily:SANS,fontWeight:"normal",fontSize:32,textAnchor:"start"}),
   at("\u22123",fl+57,fb-40,{fontFamily:SANS,fontWeight:"normal",fontSize:28,textAnchor:"start"}),
   ...catLabels.map((c,k)=>Plot.text([c],{x:()=>catX[p][k],y:()=>Y(catY[p][k]),text:d=>d,fontSize:catSizes[k],fontWeight:"bold",fontFamily:SERIF}))
  ]}),fl-mL,ft-mT);
});

// panel letters
const panelLetters=[["(A)",27,20],["(B)",27,678],["(C)",964,17],["(D)",27,1402]];
put(Plot.plot({width:2128,height:1450,margin:0,x:{domain:[0,2128],axis:null},y:{domain:[0,1450],reverse:true,axis:null},
 marks:[Plot.text(panelLetters,{x:d=>d[1],y:d=>d[2],text:d=>d[0],fontSize:38,fontWeight:"bold",fontFamily:SANS})]}),0,0);
</script></body></html>
